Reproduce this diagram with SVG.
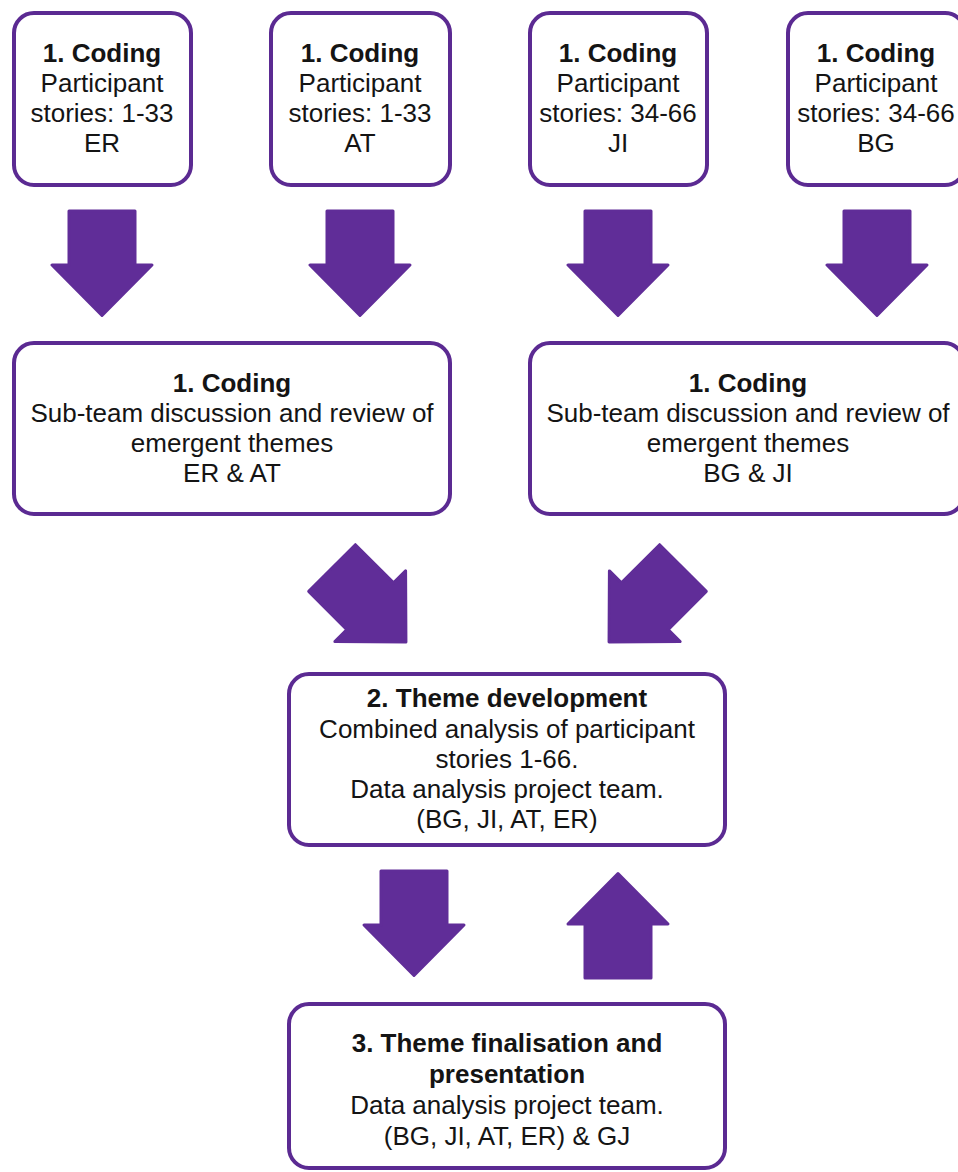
<svg xmlns="http://www.w3.org/2000/svg" width="958" height="1172" viewBox="0 0 958 1172">
<style>
.box{fill:#fff;stroke:#5b2a92;stroke-width:4}
.arr{fill:#602d98;stroke:#602d98;stroke-width:3;stroke-linejoin:round}
text{font-family:"Liberation Sans",Arial,sans-serif;font-size:26px;fill:#141414;text-anchor:middle}
.b{font-weight:bold}
</style>
<defs>
<path id="down" d="M-33,-106 H33 V-52 H50 L0,-1.5 L-50,-52 H-33 Z"/>
</defs>
<rect width="958" height="1172" fill="#fff"/>
<g id="n1"><rect class="box" x="14" y="13" width="177" height="172" rx="20"/>
<text x="102" y="62" class="b">1. Coding</text><text x="102" y="92">Participant</text><text x="102" y="122">stories: 1-33</text><text x="102" y="152">ER</text></g>
<g id="n2"><rect class="box" x="271" y="13" width="179" height="172" rx="20"/>
<text x="360" y="62" class="b">1. Coding</text><text x="360" y="92">Participant</text><text x="360" y="122">stories: 1-33</text><text x="360" y="152">AT</text></g>
<g id="n3"><rect class="box" x="530" y="13" width="177" height="172" rx="20"/>
<text x="618" y="62" class="b">1. Coding</text><text x="618" y="92">Participant</text><text x="618" y="122">stories: 34-66</text><text x="618" y="152">JI</text></g>
<g id="n4"><rect class="box" x="788" y="13" width="177" height="172" rx="20"/>
<text x="876" y="62" class="b">1. Coding</text><text x="876" y="92">Participant</text><text x="876" y="122">stories: 34-66</text><text x="876" y="152">BG</text></g>
<g id="n5"><rect class="box" x="14" y="343" width="436" height="171" rx="20"/>
<text x="232" y="392" class="b">1. Coding</text><text x="232" y="422">Sub-team discussion and review of</text><text x="232" y="452">emergent themes</text><text x="232" y="482">ER &amp; AT</text></g>
<g id="n6"><rect class="box" x="530" y="343" width="434" height="171" rx="20"/>
<text x="748" y="392" class="b">1. Coding</text><text x="748" y="422">Sub-team discussion and review of</text><text x="748" y="452">emergent themes</text><text x="748" y="482">BG &amp; JI</text></g>
<g id="n7"><rect class="box" x="289" y="674" width="436" height="171" rx="20"/>
<text x="507" y="707" class="b">2. Theme development</text><text x="507" y="738">Combined analysis of participant</text><text x="507" y="768">stories 1-66.</text><text x="507" y="798">Data analysis project team.</text><text x="507" y="828">(BG, JI, AT, ER)</text></g>
<g id="n8"><rect class="box" x="289" y="1004" width="436" height="164" rx="20"/>
<text x="507" y="1052" class="b">3. Theme finalisation and</text><text x="507" y="1083" class="b">presentation</text><text x="507" y="1114">Data analysis project team.</text><text x="507" y="1145">(BG, JI, AT, ER) &amp; GJ</text></g>
<g id="connectors">
<use href="#down" class="arr" transform="translate(102,317)"/>
<use href="#down" class="arr" transform="translate(360,317)"/>
<use href="#down" class="arr" transform="translate(618,317)"/>
<use href="#down" class="arr" transform="translate(877,317)"/>
<use href="#down" class="arr" transform="translate(407,643) rotate(-45)"/>
<use href="#down" class="arr" transform="translate(608,643) rotate(45)"/>
<use href="#down" class="arr" transform="translate(414,977)"/>
<use href="#down" class="arr" transform="translate(618,872) rotate(180)"/>
</g>
</svg>
